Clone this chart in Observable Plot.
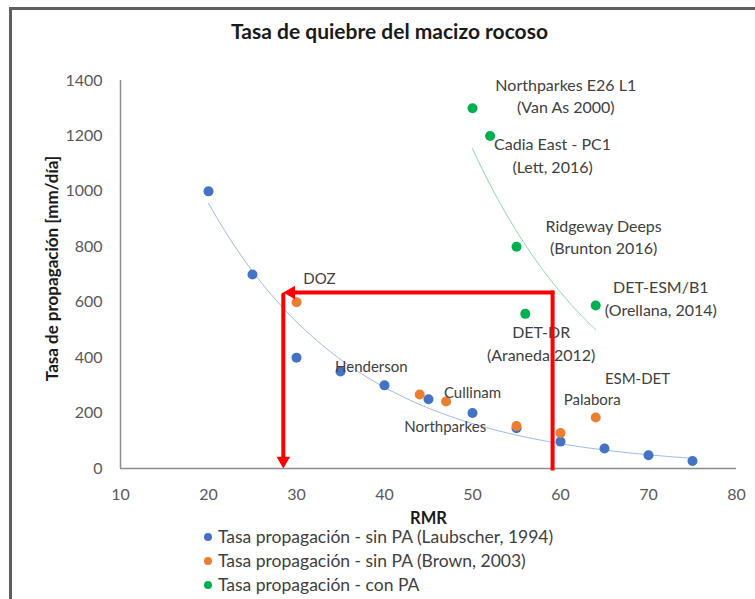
<!DOCTYPE html>
<html>
<head>
<meta charset="utf-8">
<script src="https://cdn.jsdelivr.net/npm/d3@7"></script>
<script src="https://cdn.jsdelivr.net/npm/@observablehq/plot@0.6"></script>
<style>
html,body{margin:0;padding:0;background:#fff;overflow:hidden}
#wrap{position:relative;width:755px;height:599px;overflow:hidden;font-family:Lato,sans-serif}
#frame{position:absolute;left:9px;top:7px;width:900px;height:900px;border:3px solid #5f5f5f;box-sizing:border-box}
#chart{position:absolute;left:0;top:0}
#legend{position:absolute;left:204px;top:525px;font-size:17.5px;line-height:18px;color:#404040}
#legend .row{height:24px;display:flex;align-items:center;white-space:nowrap}
#legend .dot{width:8px;height:8px;border-radius:50%;margin-right:6px;flex:none}
</style>
</head>
<body>
<div id="wrap">
  <div id="frame"></div>
  <div id="chart"></div>
  <div id="legend"></div>
</div>
<script>
// ---- Data ----
const laubscherRMR  = [20, 25, 30, 35, 40, 45, 50, 55, 60, 65, 70, 75];
const laubscherRate = [1000, 700, 400, 350, 300, 250, 200, 145, 97, 72, 48, 27];

const brownRMR  = [30, 44, 47, 55, 60, 64];
const brownRate = [600, 267, 242, 153, 128, 184];

const conPaRMR  = [50, 52, 55, 56, 64];
const conPaRate = [1300, 1200, 800, 558, 588];

const seriesNames = [
  "Tasa propagación - sin PA (Laubscher, 1994)",
  "Tasa propagación - sin PA (Brown, 2003)",
  "Tasa propagación - con PA"
];
const seriesColors = ["#4472C4", "#ED7D31", "#00B050"];

const xTicks = [10, 20, 30, 40, 50, 60, 70, 80];
const yTicks = [0, 200, 400, 600, 800, 1000, 1200, 1400];

// red guide (RMR reading)
const guideRMR = [59.1, 28.5];
const guideRate = 635;

// annotations
const siteLabels = ["Northparkes E26 L1\n(Van As 2000)", "Cadia East - PC1\n(Lett, 2016)", "Ridgeway Deeps\n(Brunton 2016)", "DET-ESM/B1\n(Orellana, 2014)", "DET-DR\n(Araneda 2012)"];
const siteLabelRMR  = [60.6, 59.1, 64.9, 71.4, 57.8];
const siteLabelRate = [1348, 1133, 839, 617, 455];

const mineLabels = ["DOZ", "Henderson", "Cullinam", "Northparkes", "Palabora", "ESM-DET"];
const mineLabelRMR  = [32.6, 38.5, 50.0, 46.9, 63.6, 68.75];
const mineLabelRate = [682, 364, 271, 148, 245, 321];

// ---- helpers ----
const toPts = (xs, ys) => xs.map((x, i) => ({x, y: ys[i]}));
// Exponential least-squares trendline (as in the spreadsheet), computed from the data
function expTrend(xs, ys, n = 120) {
  const ly = ys.map(Math.log);
  const mx = d3.mean(xs), my = d3.mean(ly);
  let sxy = 0, sxx = 0;
  xs.forEach((x, i) => { sxy += (x - mx) * (ly[i] - my); sxx += (x - mx) ** 2; });
  const b = sxy / sxx, a = Math.exp(my - b * mx);
  const [lo, hi] = d3.extent(xs);
  return d3.range(n + 1).map(i => { const x = lo + (hi - lo) * i / n; return {x, y: a * Math.exp(b * x)}; });
}

const laub = toPts(laubscherRMR, laubscherRate);
const brown = toPts(brownRMR, brownRate);
const conPa = toPts(conPaRMR, conPaRate);
const sites = siteLabels.map((t, i) => ({t, x: siteLabelRMR[i], y: siteLabelRate[i]}));
const mines = mineLabels.map((t, i) => ({t, x: mineLabelRMR[i], y: mineLabelRate[i]}));

const red = "#FF0000";
const font = "Lato, sans-serif";

const chart = Plot.plot({
  width: 755, height: 599,
  marginLeft: 120, marginRight: 19, marginTop: 80, marginBottom: 131,
  style: {fontFamily: font, background: "transparent", overflow: "visible"},
  x: {domain: [10, 80]},
  y: {domain: [0, 1400]},
  marks: [
    Plot.axisX({ticks: xTicks, tickFormat: d3.format("d"), tickSize: 0, tickPadding: 20, fontSize: 16, color: "#595959", label: null}),
    Plot.axisY({ticks: yTicks, tickFormat: d3.format("d"), tickSize: 0, tickPadding: 18, fontSize: 16, color: "#595959", label: null}),
    Plot.ruleY([0], {stroke: "#8c8c8c", strokeWidth: 1.5}),
    Plot.ruleX([10], {stroke: "#8c8c8c", strokeWidth: 1.5}),
    // trendlines
    Plot.line(expTrend(laubscherRMR, laubscherRate), {x: "x", y: "y", stroke: "#9fbbe6", strokeWidth: 1}),
    Plot.line(expTrend(conPaRMR, conPaRate), {x: "x", y: "y", stroke: "#86d9a6", strokeWidth: 1}),
    // points
    Plot.dot(laub, {x: "x", y: "y", r: 5, fill: seriesColors[0]}),
    Plot.dot(brown, {x: "x", y: "y", r: 5, fill: seriesColors[1]}),
    Plot.dot(conPa, {x: "x", y: "y", r: 5, fill: seriesColors[2]}),
    // labels
    Plot.text(sites, {x: "x", y: "y", text: "t", fontSize: 16, lineHeight: 1.4, fill: "#404040", textAnchor: "middle", lineAnchor: "middle"}),
    Plot.text(mines, {x: "x", y: "y", text: "t", fontSize: 15, fill: "#404040", textAnchor: "middle", lineAnchor: "middle"}),
    // red guide
    Plot.line([{x: guideRMR[0], y: 0}, {x: guideRMR[0], y: guideRate}], {x: "x", y: "y", stroke: red, strokeWidth: 4, strokeLinecap: "square"}),
    Plot.arrow([{x1: guideRMR[0], x2: guideRMR[1], y: guideRate}], {x1: "x1", x2: "x2", y1: "y", y2: "y", stroke: red, strokeWidth: 4, headLength: 0, insetEnd: 10}),
    Plot.arrow([{x: guideRMR[1], y1: guideRate, y2: 0}], {x1: "x", x2: "x", y1: "y1", y2: "y2", stroke: red, strokeWidth: 4, headLength: 0, insetStart: 2, insetEnd: 10}),
    Plot.dot([{x: guideRMR[1], y: guideRate}], {x: "x", y: "y", symbol: "triangle", r: 5, fill: red, rotate: -90, dx: 7.8}),
    Plot.dot([{x: guideRMR[1], y: 0}], {x: "x", y: "y", symbol: "triangle", r: 5, fill: red, rotate: 180, dy: -7.8}),
    // titles
    Plot.text(["Tasa de quiebre del macizo rocoso"], {frameAnchor: "top", lineAnchor: "middle", textAnchor: "middle", dx: -39, dy: -48, fontSize: 21, fontWeight: "bold", fill: "#1a1a1a"}),
    Plot.text(["Tasa de propagación [mm/día]"], {frameAnchor: "left", lineAnchor: "middle", textAnchor: "middle", rotate: -90, dx: -68, dy: -6, fontSize: 17, fontWeight: "bold", fill: "#1a1a1a"}),
    Plot.text(["RMR"], {frameAnchor: "bottom", lineAnchor: "middle", textAnchor: "middle", dy: 50, fontSize: 16.5, fontWeight: "bold", fill: "#1a1a1a"})
  ]
});
document.getElementById("chart").append(chart);

const legend = d3.select("#legend");
seriesNames.forEach((name, i) => {
  const row = legend.append("div").attr("class", "row");
  row.append("span").attr("class", "dot").style("background", seriesColors[i]);
  row.append("span").text(name);
});
</script>
</body>
</html>
